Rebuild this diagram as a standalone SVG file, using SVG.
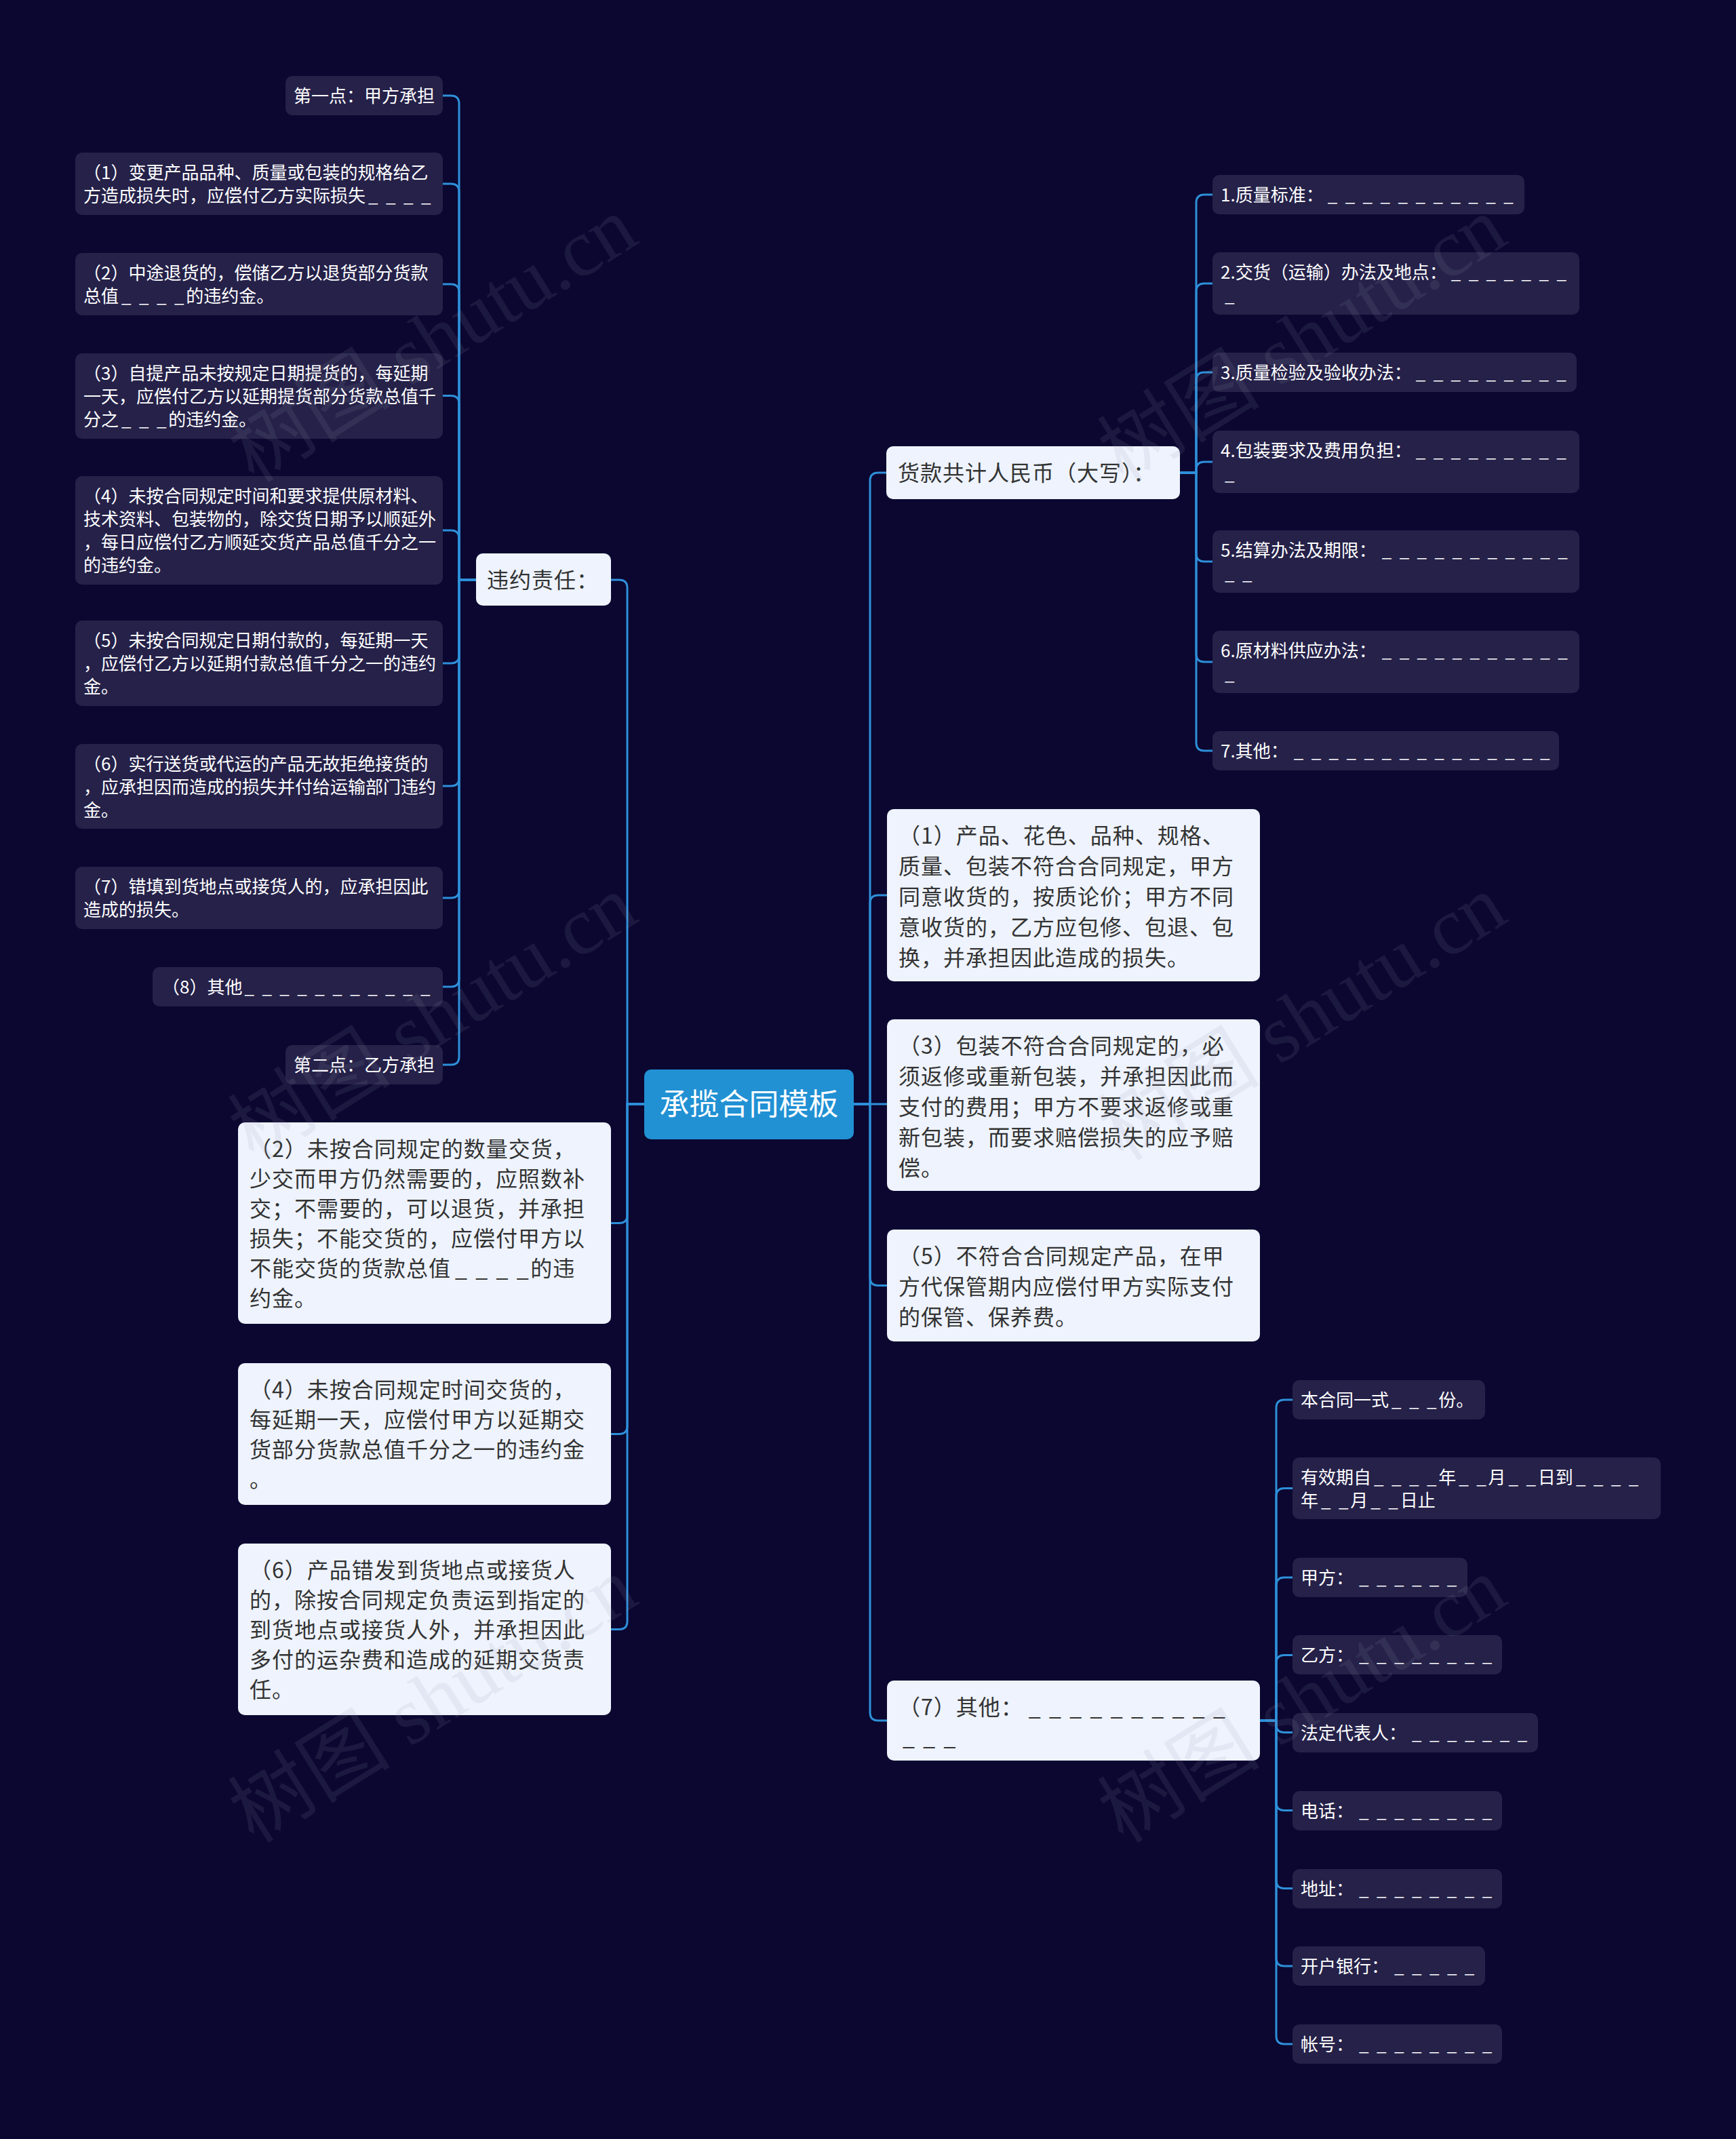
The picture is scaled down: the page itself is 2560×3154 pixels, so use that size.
<svg xmlns="http://www.w3.org/2000/svg" width="2560" height="3154" viewBox="0 0 2560 3154">
<style>
.sn{fill:#252149}
.bn{fill:#eef3fd}
.t{font-family:"Noto Sans CJK SC","Microsoft YaHei",sans-serif;font-size:26px;fill:#ffffff}
.tb{font-family:"Noto Sans CJK SC","Microsoft YaHei",sans-serif;font-size:32px;fill:#333333;letter-spacing:1px}
.u{letter-spacing:2.8px}
.u2{letter-spacing:2.6px}
.c{fill:none;stroke:#2e90da;stroke-width:3;stroke-linecap:round}
.wm{font-family:"Liberation Serif","Noto Sans CJK SC",serif;font-size:120px;fill:#9a9ab0;opacity:0.12}
</style>
<rect x="0" y="0" width="2560" height="3154" fill="#0b0730"/>

<g id="connectors">
<path class="c" d="M950,1628 H925 V867 Q925,855 913,855 H901"/>
<path class="c" d="M950,1628 H925 V1791.5 Q925,1803.5 913,1803.5 H901"/>
<path class="c" d="M950,1628 H925 V2102.5 Q925,2114.5 913,2114.5 H901"/>
<path class="c" d="M950,1628 H925 V2390.5 Q925,2402.5 913,2402.5 H901"/>
<path class="c" d="M1259,1628 H1283 V709 Q1283,697 1295,697 H1307"/>
<path class="c" d="M1259,1628 H1283 V1332 Q1283,1320 1295,1320 H1308"/>
<path class="c" d="M1259,1628 H1308"/>
<path class="c" d="M1259,1628 H1283 V1883.5 Q1283,1895.5 1295,1895.5 H1308"/>
<path class="c" d="M1259,1628 H1283 V2525 Q1283,2537 1295,2537 H1308"/>
<path class="c" d="M702,855 H677 V153 Q677,141 665,141 H653"/>
<path class="c" d="M702,855 H677 V283 Q677,271 665,271 H653"/>
<path class="c" d="M702,855 H677 V431 Q677,419 665,419 H653"/>
<path class="c" d="M702,855 H677 V595.5 Q677,583.5 665,583.5 H653"/>
<path class="c" d="M702,855 H677 V794 Q677,782 665,782 H653"/>
<path class="c" d="M702,855 H677 V966 Q677,978 665,978 H653"/>
<path class="c" d="M702,855 H677 V1147 Q677,1159 665,1159 H653"/>
<path class="c" d="M702,855 H677 V1312 Q677,1324 665,1324 H653"/>
<path class="c" d="M702,855 H677 V1443 Q677,1455 665,1455 H653"/>
<path class="c" d="M702,855 H677 V1558 Q677,1570 665,1570 H653"/>
<path class="c" d="M1740,697 H1764 V299 Q1764,287 1776,287 H1788"/>
<path class="c" d="M1740,697 H1764 V430 Q1764,418 1776,418 H1788"/>
<path class="c" d="M1740,697 H1764 V561 Q1764,549 1776,549 H1788"/>
<path class="c" d="M1740,697 H1764 V693 Q1764,681 1776,681 H1788"/>
<path class="c" d="M1740,697 H1764 V816 Q1764,828 1776,828 H1788"/>
<path class="c" d="M1740,697 H1764 V964 Q1764,976 1776,976 H1788"/>
<path class="c" d="M1740,697 H1764 V1095 Q1764,1107 1776,1107 H1788"/>
<path class="c" d="M1858,2537 H1882 V2076 Q1882,2064 1894,2064 H1906"/>
<path class="c" d="M1858,2537 H1882 V2206.5 Q1882,2194.5 1894,2194.5 H1906"/>
<path class="c" d="M1858,2537 H1882 V2338 Q1882,2326 1894,2326 H1906"/>
<path class="c" d="M1858,2537 H1882 V2452.5 Q1882,2440.5 1894,2440.5 H1906"/>
<path class="c" d="M1858,2537 H1882 V2542.5 Q1882,2554.5 1894,2554.5 H1906"/>
<path class="c" d="M1858,2537 H1882 V2657.5 Q1882,2669.5 1894,2669.5 H1906"/>
<path class="c" d="M1858,2537 H1882 V2772.5 Q1882,2784.5 1894,2784.5 H1906"/>
<path class="c" d="M1858,2537 H1882 V2887 Q1882,2899 1894,2899 H1906"/>
<path class="c" d="M1858,2537 H1882 V3002 Q1882,3014 1894,3014 H1906"/>
</g>

<g id="root">
<rect x="950" y="1577" width="309" height="103" rx="10" fill="#2191d4"/>
<text x="1104.5" y="1644" text-anchor="middle" font-family="Noto Sans CJK SC, sans-serif" font-size="44" fill="#ffffff">承揽合同模板</text>
</g>

<g id="n-weiyue">
<rect class="bn" x="702" y="816" width="199" height="77" rx="10"/>
<text class="tb" x="718" y="867">违约责任：</text>
</g>

<g id="n-l1">
<rect class="sn" x="421" y="112" width="232" height="58" rx="10"/>
<text class="t" x="433" y="151">第一点：甲方承担</text>
</g>
<g id="n-l2">
<rect class="sn" x="111" y="225" width="542" height="92" rx="10"/>
<text class="t" x="123" y="264">（1）变更产品品种、质量或包装的规格给乙</text>
<text class="t" x="123" y="298">方造成损失时，应偿付乙方实际损失<tspan class="u" dx="4">_ _ _ _</tspan></text>
</g>
<g id="n-l3">
<rect class="sn" x="111" y="373" width="542" height="92" rx="10"/>
<text class="t" x="123" y="412">（2）中途退货的，偿储乙方以退货部分货款</text>
<text class="t" x="123" y="446">总值<tspan class="u" dx="4">_ _ _ _</tspan>的违约金。</text>
</g>
<g id="n-l4">
<rect class="sn" x="111" y="521" width="542" height="126" rx="10"/>
<text class="t" x="123" y="560">（3）自提产品未按规定日期提货的，每延期</text>
<text class="t" x="123" y="594">一天，应偿付乙方以延期提货部分货款总值千</text>
<text class="t" x="123" y="628">分之<tspan class="u" dx="4">_ _ _</tspan>的违约金。</text>
</g>
<g id="n-l5">
<rect class="sn" x="111" y="702" width="542" height="160" rx="10"/>
<text class="t" x="123" y="741">（4）未按合同规定时间和要求提供原材料、</text>
<text class="t" x="123" y="775">技术资料、包装物的，除交货日期予以顺延外</text>
<text class="t" x="123" y="809">，每日应偿付乙方顺延交货产品总值千分之一</text>
<text class="t" x="123" y="843">的违约金。</text>
</g>
<g id="n-l6">
<rect class="sn" x="111" y="915" width="542" height="126" rx="10"/>
<text class="t" x="123" y="954">（5）未按合同规定日期付款的，每延期一天</text>
<text class="t" x="123" y="988">，应偿付乙方以延期付款总值千分之一的违约</text>
<text class="t" x="123" y="1022">金。</text>
</g>
<g id="n-l7">
<rect class="sn" x="111" y="1097" width="542" height="125" rx="10"/>
<text class="t" x="123" y="1136">（6）实行送货或代运的产品无故拒绝接货的</text>
<text class="t" x="123" y="1170">，应承担因而造成的损失并付给运输部门违约</text>
<text class="t" x="123" y="1204">金。</text>
</g>
<g id="n-l8">
<rect class="sn" x="111" y="1278" width="542" height="92" rx="10"/>
<text class="t" x="123" y="1317">（7）错填到货地点或接货人的，应承担因此</text>
<text class="t" x="123" y="1351">造成的损失。</text>
</g>
<g id="n-l9">
<rect class="sn" x="225" y="1426" width="428" height="58" rx="10"/>
<text class="t" x="239" y="1465">（8）其他<tspan class="u" dx="3">_ _ _ _ _ _ _ _ _ _ _</tspan></text>
</g>
<g id="n-l10">
<rect class="sn" x="421" y="1541" width="232" height="58" rx="10"/>
<text class="t" x="433" y="1580">第二点：乙方承担</text>
</g>

<g id="n-lb2">
<rect class="bn" x="351" y="1655" width="550" height="297" rx="10"/>
<text class="tb" x="368" y="1706">（2）未按合同规定的数量交货，</text>
<text class="tb" x="368" y="1750">少交而甲方仍然需要的，应照数补</text>
<text class="tb" x="368" y="1794">交；不需要的，可以退货，并承担</text>
<text class="tb" x="368" y="1838">损失；不能交货的，应偿付甲方以</text>
<text class="tb" x="368" y="1882">不能交货的货款总值<tspan class="u2" dx="6">_ _ _ _</tspan>的违</text>
<text class="tb" x="368" y="1926">约金。</text>
</g>
<g id="n-lb4">
<rect class="bn" x="351" y="2010" width="550" height="209" rx="10"/>
<text class="tb" x="368" y="2061">（4）未按合同规定时间交货的，</text>
<text class="tb" x="368" y="2105">每延期一天，应偿付甲方以延期交</text>
<text class="tb" x="368" y="2149">货部分货款总值千分之一的违约金</text>
<text class="tb" x="368" y="2193">。</text>
</g>
<g id="n-lb6">
<rect class="bn" x="351" y="2276" width="550" height="253" rx="10"/>
<text class="tb" x="368" y="2327">（6）产品错发到货地点或接货人</text>
<text class="tb" x="368" y="2371">的，除按合同规定负责运到指定的</text>
<text class="tb" x="368" y="2415">到货地点或接货人外，并承担因此</text>
<text class="tb" x="368" y="2459">多付的运杂费和造成的延期交货责</text>
<text class="tb" x="368" y="2503">任。</text>
</g>

<g id="n-huokuan">
<rect class="bn" x="1307" y="658" width="433" height="78" rx="10"/>
<text class="tb" x="1324" y="709">货款共计人民币（大写）：</text>
</g>
<g id="n-r1">
<rect class="sn" x="1788" y="258" width="460" height="58" rx="10"/>
<text class="t" x="1800" y="297">1.质量标准：<tspan class="u" dx="6">_ _ _ _ _ _ _ _ _ _ _</tspan></text>
</g>
<g id="n-r2">
<rect class="sn" x="1788" y="372" width="541" height="92" rx="10"/>
<text class="t" x="1800" y="411">2.交货（运输）办法及地点：<tspan class="u" dx="6">_ _ _ _ _ _ _</tspan></text>
<text class="t" x="1800" y="445"><tspan class="u" dx="6">_</tspan></text>
</g>
<g id="n-r3">
<rect class="sn" x="1788" y="520" width="537" height="58" rx="10"/>
<text class="t" x="1800" y="559">3.质量检验及验收办法：<tspan class="u" dx="6">_ _ _ _ _ _ _ _ _</tspan></text>
</g>
<g id="n-r4">
<rect class="sn" x="1788" y="635" width="541" height="92" rx="10"/>
<text class="t" x="1800" y="674">4.包装要求及费用负担：<tspan class="u" dx="6">_ _ _ _ _ _ _ _ _</tspan></text>
<text class="t" x="1800" y="708"><tspan class="u" dx="6">_</tspan></text>
</g>
<g id="n-r5">
<rect class="sn" x="1788" y="782" width="541" height="92" rx="10"/>
<text class="t" x="1800" y="821">5.结算办法及期限：<tspan class="u" dx="8">_ _ _ _ _ _ _ _ _ _ _</tspan></text>
<text class="t" x="1800" y="855"><tspan class="u" dx="6">_ _</tspan></text>
</g>
<g id="n-r6">
<rect class="sn" x="1788" y="930" width="541" height="92" rx="10"/>
<text class="t" x="1800" y="969">6.原材料供应办法：<tspan class="u" dx="8">_ _ _ _ _ _ _ _ _ _ _</tspan></text>
<text class="t" x="1800" y="1003"><tspan class="u" dx="6">_</tspan></text>
</g>
<g id="n-r7">
<rect class="sn" x="1788" y="1078" width="511" height="58" rx="10"/>
<text class="t" x="1800" y="1117">7.其他：<tspan class="u" dx="8">_ _ _ _ _ _ _ _ _ _ _ _ _ _ _</tspan></text>
</g>

<g id="n-rb1">
<rect class="bn" x="1308" y="1193" width="550" height="254" rx="10"/>
<text class="tb" x="1325" y="1244">（1）产品、花色、品种、规格、</text>
<text class="tb" x="1325" y="1289">质量、包装不符合合同规定，甲方</text>
<text class="tb" x="1325" y="1334">同意收货的，按质论价；甲方不同</text>
<text class="tb" x="1325" y="1379">意收货的，乙方应包修、包退、包</text>
<text class="tb" x="1325" y="1424">换，并承担因此造成的损失。</text>
</g>
<g id="n-rb3">
<rect class="bn" x="1308" y="1503" width="550" height="253" rx="10"/>
<text class="tb" x="1325" y="1554">（3）包装不符合合同规定的，必</text>
<text class="tb" x="1325" y="1599">须返修或重新包装，并承担因此而</text>
<text class="tb" x="1325" y="1644">支付的费用；甲方不要求返修或重</text>
<text class="tb" x="1325" y="1689">新包装，而要求赔偿损失的应予赔</text>
<text class="tb" x="1325" y="1734">偿。</text>
</g>
<g id="n-rb5">
<rect class="bn" x="1308" y="1813" width="550" height="165" rx="10"/>
<text class="tb" x="1325" y="1864">（5）不符合合同规定产品，在甲</text>
<text class="tb" x="1325" y="1909">方代保管期内应偿付甲方实际支付</text>
<text class="tb" x="1325" y="1954">的保管、保养费。</text>
</g>
<g id="n-rb7">
<rect class="bn" x="1308" y="2478" width="550" height="118" rx="10"/>
<text class="tb" x="1325" y="2529">（7）其他：<tspan class="u2" dx="8">_ _ _ _ _ _ _ _ _ _</tspan></text>
<text class="tb" x="1325" y="2573"><tspan class="u2" dx="6">_ _ _</tspan></text>
</g>

<g id="n-s1">
<rect class="sn" x="1906" y="2035" width="284" height="58" rx="10"/>
<text class="t" x="1918" y="2074">本合同一式<tspan class="u" dx="4">_ _ _</tspan>份。</text>
</g>
<g id="n-s2">
<rect class="sn" x="1906" y="2149" width="543" height="91" rx="10"/>
<text class="t" x="1918" y="2188">有效期自<tspan class="u" dx="4">_ _ _ _</tspan>年<tspan class="u" dx="4">_ _</tspan>月<tspan class="u" dx="4">_ _</tspan>日到<tspan class="u" dx="4">_ _ _ _</tspan></text>
<text class="t" x="1918" y="2222">年<tspan class="u" dx="4">_ _</tspan>月<tspan class="u" dx="4">_ _</tspan>日止</text>
</g>
<g id="n-s3">
<rect class="sn" x="1906" y="2297" width="258" height="58" rx="10"/>
<text class="t" x="1918" y="2336">甲方：<tspan class="u" dx="8">_ _ _ _ _ _</tspan></text>
</g>
<g id="n-s4">
<rect class="sn" x="1906" y="2411" width="309" height="58" rx="10"/>
<text class="t" x="1918" y="2450">乙方：<tspan class="u" dx="8">_ _ _ _ _ _ _ _</tspan></text>
</g>
<g id="n-s5">
<rect class="sn" x="1906" y="2526" width="362" height="58" rx="10"/>
<text class="t" x="1918" y="2565">法定代表人：<tspan class="u" dx="8">_ _ _ _ _ _ _</tspan></text>
</g>
<g id="n-s6">
<rect class="sn" x="1906" y="2641" width="309" height="58" rx="10"/>
<text class="t" x="1918" y="2680">电话：<tspan class="u" dx="8">_ _ _ _ _ _ _ _</tspan></text>
</g>
<g id="n-s7">
<rect class="sn" x="1906" y="2756" width="309" height="58" rx="10"/>
<text class="t" x="1918" y="2795">地址：<tspan class="u" dx="8">_ _ _ _ _ _ _ _</tspan></text>
</g>
<g id="n-s8">
<rect class="sn" x="1906" y="2870" width="284" height="58" rx="10"/>
<text class="t" x="1918" y="2909">开户银行：<tspan class="u" dx="8">_ _ _ _ _</tspan></text>
</g>
<g id="n-s9">
<rect class="sn" x="1906" y="2985" width="309" height="58" rx="10"/>
<text class="t" x="1918" y="3024">帐号：<tspan class="u" dx="8">_ _ _ _ _ _ _ _</tspan></text>
</g>

<g id="watermark">
<text class="wm" x="643" y="540" text-anchor="middle" transform="rotate(-32 643 508)">树图 shutu.cn</text>
<text class="wm" x="1925" y="540" text-anchor="middle" transform="rotate(-32 1925 508)">树图 shutu.cn</text>
<text class="wm" x="643" y="1540" text-anchor="middle" transform="rotate(-32 643 1508)">树图 shutu.cn</text>
<text class="wm" x="1925" y="1540" text-anchor="middle" transform="rotate(-32 1925 1508)">树图 shutu.cn</text>
<text class="wm" x="643" y="2546" text-anchor="middle" transform="rotate(-32 643 2514)">树图 shutu.cn</text>
<text class="wm" x="1925" y="2546" text-anchor="middle" transform="rotate(-32 1925 2514)">树图 shutu.cn</text>
</g>
</svg>
